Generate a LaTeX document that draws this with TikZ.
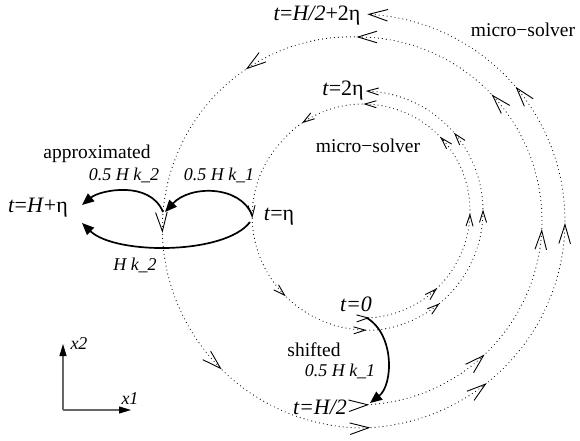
\documentclass[tikz,border=0pt]{standalone}
\usepackage{fontspec}
\setmainfont{Liberation Serif}
\usetikzlibrary{arrows.meta}
\begin{document}
\begin{tikzpicture}[x=1pt,y=-1pt,
  declare function={rin(\t)=107+13*min(1,max(0,(\t-500)/140));
                    rout(\t)=184+23*min(1,max(0,(\t-450)/180));},
  spiral/.style={line width=1.15pt, line cap=round, dash pattern=on 0pt off 4pt},
  vhead/.style={line width=0.9pt, solid, line join=miter},
  thickarc/.style={line width=1.7pt, -{Triangle[length=12pt,width=10pt]}},
  axis/.style={line width=1.1pt, draw=black!60, -{Triangle[length=12pt,width=7pt,color=black]}},
  tlbl/.style={inner sep=0pt, font=\fontsize{22}{22}\selectfont},
  wlbl/.style={inner sep=0pt, font=\fontsize{19.5}{20}\selectfont},
  klbl/.style={inner sep=0pt, font=\fontsize{18}{18}\itshape\selectfont}]
\useasboundingbox (0,0) rectangle (580,441);

% inner spiral (micro-solver, from t=0 to t=2eta)
\draw[spiral] plot[domain=272.7:808,samples=300,variable=\t]
  ({363+rin(\t)*cos(\t)},{211-rin(\t)*sin(\t)});
\foreach \t in {272.7,313,358,403,449,484,543,587,631,669,720,760,808}{
  \pgfmathsetmacro\rr{rin(\t)}
  \pgfmathsetmacro\px{363+\rr*cos(\t)}
  \pgfmathsetmacro\py{211-\rr*sin(\t)}
  \pgfmathsetmacro\ang{\t+90}
  \draw[vhead, shift={(\px,\py)}, rotate=\ang] (-11.5,3.5) -- (0,0) -- (-11.5,-3.5);
}

% outer spiral (micro-solver, from t=H/2 to t=H/2+2eta)
\draw[spiral] plot[domain=273:807,samples=300,variable=\t]
  ({358+rout(\t)*cos(\t)},{221-rout(\t)*sin(\t)});
\foreach \t in {273,313,357,403,450,486,543,587,633,668,719,760,807}{
  \pgfmathsetmacro\rr{rout(\t)}
  \pgfmathsetmacro\px{358+\rr*cos(\t)}
  \pgfmathsetmacro\py{221-\rr*sin(\t)}
  \pgfmathsetmacro\ang{\t+90}
  \draw[vhead, shift={(\px,\py)}, rotate=\ang] (-19,5.8) -- (0,0) -- (-19,-5.8);
}

% points
\coordinate (t0) at (367,318);
\coordinate (tH2) at (370,403);
\coordinate (teta) at (252,215);
\coordinate (teta2) at (250,222);
\coordinate (mid) at (165,212);
\coordinate (mid2) at (163,212);
\coordinate (tHeta) at (82,205);
\coordinate (tHeta2) at (82,223);

% thick connectors
\draw[thickarc] (teta) .. controls (240,185) and (190,185) .. (mid);
\draw[thickarc] (mid2) .. controls (150,180) and (100,190) .. (tHeta);
\draw[thickarc] (teta2) .. controls (225,255) and (115,255) .. (tHeta2);
\draw[thickarc] (t0) .. controls (395,335) and (393,385) .. (tH2);

% axes
\coordinate (O) at (63,410);
\coordinate (X1) at (131,410);
\coordinate (X2) at (63,344);
\draw[axis] (O) -- (X1);
\draw[axis] (O) -- (X2);

% labels
\node[tlbl] (lHeta) at (38,208) {\textit{t}=\textit{H}+η};
\node[tlbl] (leta) at (279,217) {\textit{t}=η};
\node[tlbl] (l2eta) at (343,91) {\textit{t}=2η};
\node[tlbl] (lH2eta) at (317,16) {\textit{t}=\textit{H/2}+2η};
\node[tlbl] (l0) at (356,304) {\textit{t=0}};
\node[tlbl] (lH2) at (320,407) {\textit{t=H/2}};
\node[wlbl] (ms1) at (523,30) {micro−solver};
\node[wlbl] (ms2) at (368,146) {micro−solver};
\node[wlbl] (appr) at (97,154) {approximated};
\node[wlbl] (shf) at (314,350) {shifted};
\node[klbl] (k2a) at (124,175) {0.5 H k\_2};
\node[klbl] (k1a) at (219,175) {0.5 H k\_1};
\node[klbl] (hk2) at (135,265) {H k\_2};
\node[klbl] (k1b) at (340,371) {0.5 H k\_1};
\node[klbl] (x2) at (79,344) {x2};
\node[klbl] (x1) at (130,399) {x1};
\end{tikzpicture}
\end{document}
